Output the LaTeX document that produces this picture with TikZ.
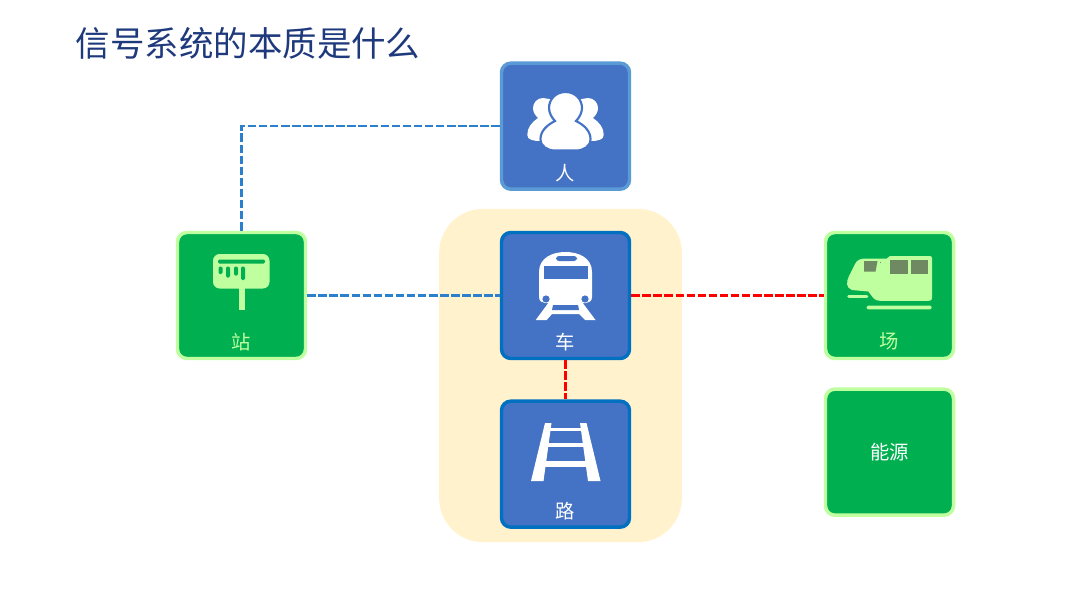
\documentclass[tikz,border=0pt]{standalone}
\usepackage{fontspec}
\setmainfont{Noto Sans CJK SC}
\usetikzlibrary{calc}
\definecolor{titleblue}{HTML}{1F3A7C}
\definecolor{boxblue}{HTML}{4472C4}
\definecolor{edgeblue}{HTML}{0070C0}
\definecolor{edgesky}{HTML}{5B9BD5}
\definecolor{boxgreen}{HTML}{00B050}
\definecolor{palegreen}{HTML}{BFFFA0}
\definecolor{wingrey}{HTML}{6F8A62}
\definecolor{padyellow}{HTML}{FFF2CC}
\definecolor{linkblue}{HTML}{2A80CC}
\tikzset{>=latex}
\begin{document}
\begin{tikzpicture}[x=0.75pt, y=-0.75pt]
    % b = blue block, g = green block
    \tikzstyle{blockb}=[draw=edgeblue, fill=boxblue, line width=2.6pt, rounded corners=7pt, minimum width=96pt, minimum height=94.5pt]
    \tikzstyle{blockg}=[blockb, draw=palegreen, fill=boxgreen]
    \tikzstyle{tagb}=[text=white, font=\fontsize{14.5pt}{16pt}\selectfont, inner sep=0pt]
    \tikzstyle{tagg}=[tagb, text=palegreen]
    \tikzstyle{link}=[dashed, dash pattern=on 6.4pt off 1.9pt, line width=1.9pt]
    \useasboundingbox (0, 0) rectangle (1080, 595);
    \fill[white] (0, 0) rectangle (1080, 595);

    \node[inner sep=0pt, anchor=west, text=titleblue, font=\fontsize{25.85pt}{30pt}\selectfont] (title) at (75.5, 43) {信号系统的本质是什么};

    \node[fill=padyellow, rounded corners=33pt, minimum width=182pt, minimum height=250pt, inner sep=0pt] (pad) at (560.5, 375.5) {};

    \node[blockb] (car) at (565.5, 295.5) {};
    \node[blockb, draw=edgesky, node distance=127pt] (person) [above of = car] {};
    \node[blockb, node distance=126.5pt] (road) [below of = car] {};
    \node[blockg, node distance=243pt] (station) [left of = car] {};
    \node[blockg, node distance=243pt] (yard) [right of = car] {};
    \node[blockg, node distance=117.5pt, text=white, font=\fontsize{14.5pt}{16pt}\selectfont] (energy) [below of = yard] {能源};

    \coordinate (corner) at (station.north |- person.west);
    \draw[link, linkblue] (person.west) -- (corner) -- (station.north);
    \draw[link, linkblue] (station.east) -- (car.west);
    \draw[link, red] (car.east) -- (yard.west);
    \draw[link, red] (car.south) -- (road.north);

    \node[tagb] (persontag) at (565, 173) {人};
    \node[tagb] (cartag) at (565, 342) {车};
    \node[tagb] (roadtag) at (565, 511) {路};
    \node[tagg] (stationtag) at (241, 342) {站};
    \node[tagg] (yardtag) at (889, 341) {场};

    % people
    \fill[white] (543, 98) .. controls (537, 98) and (533, 103) .. (533, 108) .. controls (533, 112) and (535, 115) .. (538, 118) .. controls (532, 122) and (527, 128) .. (527.3, 135) .. controls (527.5, 140) and (533, 141) .. (541, 141) -- (560, 130) -- (555, 100) -- cycle;
    \fill[white] (588, 98) .. controls (594, 98) and (598, 103) .. (598, 108) .. controls (598, 112) and (596, 115) .. (593, 118) .. controls (599, 122) and (604, 128) .. (603.7, 135) .. controls (603.5, 140) and (598, 141) .. (590, 141) -- (571, 130) -- (576, 100) -- cycle;
    \draw[boxblue, fill=white, line width=1.6pt] (565.5, 92) .. controls (575.5, 92) and (582, 99.5) .. (582, 108) .. controls (582, 113) and (579, 118) .. (576, 121) .. controls (584, 125) and (590.5, 131) .. (590.5, 139) .. controls (590.5, 146.5) and (583.5, 150.5) .. (576, 150.5) -- (555, 150.5) .. controls (547.5, 150.5) and (540.5, 146.5) .. (540.5, 139) .. controls (540.5, 131) and (547, 125) .. (555, 121) .. controls (552, 118) and (549, 113) .. (549, 108) .. controls (549, 99.5) and (555.5, 92) .. (565.5, 92) -- cycle;

    % train
    \fill[white] (539, 272) .. controls (539, 258) and (552, 252) .. (565.5, 252) .. controls (579, 252) and (592, 258) .. (592, 272) -- (592, 297) .. controls (592, 301) and (589, 303) .. (586, 303) -- (545, 303) .. controls (542, 303) and (539, 301) .. (539, 297) -- cycle;
    \fill[boxblue] (544, 266) rectangle (588, 279);
    \fill[boxblue, rounded corners=2.2pt] (556, 256) rectangle (577, 261);
    \fill[boxblue] (546, 299) circle (3.6);
    \fill[boxblue] (585, 299) circle (3.6);
    \fill[white] (549, 302) -- (535.7, 320) -- (546.7, 320) -- (552, 314) -- (579, 314) -- (585, 320) -- (595.5, 320) -- (582, 302) -- cycle;
    \fill[boxblue] (553, 305) -- (578, 305) -- (579, 310) -- (552, 310) -- cycle;

    % rails
    \fill[white] (545, 423) -- (551.5, 423) -- (543.5, 481) -- (531, 481) -- cycle;
    \fill[white] (580, 423) -- (586.5, 423) -- (600.5, 481) -- (588, 481) -- cycle;
    \fill[white] (548, 427.5) rectangle (583, 431);
    \fill[white] (546, 442.5) rectangle (585, 447);
    \fill[white] (543, 461) rectangle (589, 467);

    % sign
    \fill[palegreen, rounded corners=5pt] (213, 254) rectangle (269.5, 288.5);
    \fill[palegreen] (238.5, 287) rectangle (244.5, 309.5);
    \fill[boxgreen, rounded corners=1pt] (218, 259.5) rectangle (265, 263.5);
    \fill[boxgreen, rounded corners=1pt] (218.5, 266.5) rectangle (222.5, 274);
    \fill[boxgreen, rounded corners=1pt] (226, 266.5) rectangle (230, 277.5);
    \fill[boxgreen, rounded corners=1pt] (234, 266.5) rectangle (238, 275.5);
    \fill[boxgreen, rounded corners=1pt] (241, 266.5) rectangle (245, 280);

    % yard train
    \fill[palegreen] (930, 256) -- (890, 256) -- (886.7, 258.5) -- (866, 258.5) .. controls (860, 258.5) and (857, 260) .. (855, 264) -- (849, 276) .. controls (846, 282) and (846, 288) .. (852, 290) -- (868.3, 291.5) -- (873.3, 298) .. controls (875, 300) and (877, 300.8) .. (880, 300.8) -- (929, 300.8) .. controls (931, 300.8) and (932, 300) .. (932, 298) -- (932, 258) .. controls (932, 257) and (931, 256) .. (930, 256) -- cycle;
    \fill[wingrey] (864, 261) -- (877.5, 261) -- (875.5, 271.7) -- (864, 271.7) -- cycle;
    \fill[wingrey] (880, 261.5) rectangle (881, 263);
    \fill[wingrey] (890, 260) rectangle (908.3, 274.3);
    \fill[wingrey] (911, 260) rectangle (928.3, 274.3);
    \fill[palegreen, rounded corners=1pt] (847.3, 295) rectangle (868.3, 297.8);
    \fill[palegreen, rounded corners=1pt] (866.7, 305.7) rectangle (931.7, 309.3);
\end{tikzpicture}
\end{document}
